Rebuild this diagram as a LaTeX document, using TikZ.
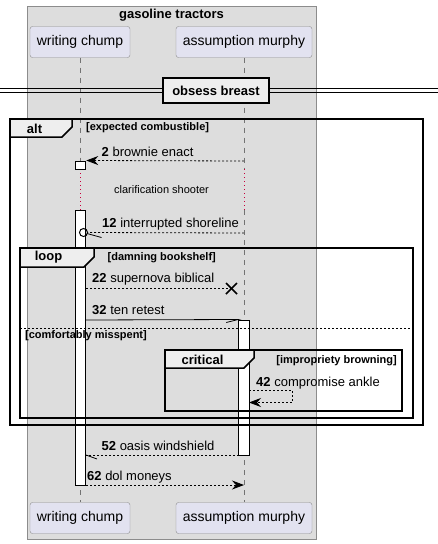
\documentclass[tikz,border=0pt]{standalone}
\usepackage{fontspec}
\setmainfont{Liberation Sans}
\usetikzlibrary{arrows.meta, positioning, calc}
\definecolor{boxgray}{HTML}{DDDDDD}
\definecolor{partfill}{HTML}{E2E2F0}
\definecolor{tabfill}{HTML}{EEEEEE}
\definecolor{delayred}{HTML}{C8003C}

\begin{document}
\begin{tikzpicture}[
        x=1pt, y=-1pt,
        >={Stealth[length=12pt, width=9pt, inset=4pt]},
        participant/.style={draw=black!45, fill=partfill, rounded corners=2.5pt, font=\fontsize{14}{16}\selectfont, minimum height=31pt, inner sep=0pt},
        lifeline/.style={draw=black!55, line width=0.6pt, dash pattern=on 5pt off 5pt},
        delayline/.style={draw=delayred, line width=0.8pt, dash pattern=on 1pt off 3pt},
        actbar/.style={draw=black, fill=white, line width=1pt, minimum width=10.5pt, inner sep=0pt},
        frameline/.style={draw=black, line width=1.5pt},
        tab/.style={draw=black, fill=tabfill, line width=1.5pt},
        tablabel/.style={font=\fontsize{13}{15}\selectfont\bfseries, inner sep=0pt},
        guard/.style={font=\fontsize{11}{13}\selectfont\bfseries, anchor=west, inner sep=0pt},
        msg/.style={draw=black, line width=0.8pt, dash pattern=on 2pt off 2pt},
        solidmsg/.style={draw=black, line width=0.8pt},
        msglabel/.style={font=\fontsize{13}{15}\selectfont, anchor=base west, inner sep=0pt}
    ]
        \useasboundingbox (0,0) rectangle (438,544);

        % box round both participants
        \draw[draw=black!45, fill=boxgray, line width=0.8pt] (27,6) rectangle (316,539);
        \node[font=\fontsize{13}{15}\selectfont\bfseries] (boxtitle) at (171.5,15) {gasoline tractors};

        \node[participant, minimum width=100pt] (chumpT) at (80,42) {writing chump};
        \node[participant, minimum width=136pt] (murphyT) at (244,42) {assumption murphy};
        \node[participant, minimum width=100pt] (chumpB) at (80,518) {writing chump};
        \node[participant, minimum width=136pt] (murphyB) at (244,518) {assumption murphy};

        % lifelines, broken by the delay
        \coordinate (chumpD1) at (80.5,169);
        \coordinate (chumpD2) at (80.5,210);
        \coordinate (murphyD1) at (244,169);
        \coordinate (murphyD2) at (244,210);
        \draw[lifeline] (chumpT.south -| chumpD1) -- (chumpD1);
        \draw[lifeline] (chumpD2) -- (chumpB.north -| chumpD2);
        \draw[lifeline] (murphyT.south) -- (murphyD1);
        \draw[lifeline] (murphyD2) -- (murphyB.north);
        \draw[delayline] (chumpD1) -- (chumpD2);
        \draw[delayline] (murphyD1) -- (murphyD2);
        \node[font=\fontsize{11}{13}\selectfont] (delay) at (161.5,190) {clarification shooter};

        % activations
        \node[actbar, minimum height=8pt] (act1) at (80.5,165) {};
        \node[actbar, minimum height=275pt] (act2) at (80.5,347.5) {};
        \node[actbar, minimum height=135pt] (act3) at (244,387.5) {};

        % divider
        \draw[line width=0.8pt] (0,88) -- (438,88);
        \draw[line width=0.8pt] (0,92.5) -- (438,92.5);
        \node[draw=black, fill=tabfill, line width=2pt, minimum width=106pt, minimum height=25pt, font=\fontsize{13}{15}\selectfont\bfseries] (divider) at (216,90.5) {obsess breast};

        % frames
        \draw[frameline] (10,119) rectangle (423,425);
        \draw[frameline] (20,248) rectangle (413,418);
        \draw[frameline] (165,350) rectangle (402,411);
        \draw[draw=black, line width=0.8pt, dash pattern=on 2pt off 2pt] (20,328) -- (413,328);
        \draw[tab] (10,119) -- (72,119) -- (72,127) -- (62,137) -- (10,137) -- cycle;
        \draw[tab] (20,248) -- (94,248) -- (94,257) -- (84,267) -- (20,267) -- cycle;
        \draw[tab] (165,350) -- (254,350) -- (254,358) -- (244,368) -- (165,368) -- cycle;
        \node[tablabel] (altlbl) at (34.5,128.5) {alt};
        \node[tablabel] (looplbl) at (48.5,257.5) {loop};
        \node[tablabel] (critlbl) at (202.5,359.5) {critical};
        \node[guard] (altguard) at (86,128) {[expected combustible]};
        \node[guard] (loopguard) at (107.5,258) {[damning bookshelf]};
        \node[guard] (elseguard) at (25,336) {[comfortably misspent]};
        \node[guard, anchor=east] (critguard) at (397,360.5) {[impropriety browning]};

        % messages
        \coordinate (m2) at (244,161);
        \draw[msg, ->] (m2) -- (act1.north east);
        \node[msglabel] (l2) at (101.5,156) {\textbf{2} brownie enact};

        \coordinate (m12) at (244,233);
        \node[draw=black, line width=1pt, circle, inner sep=0pt, minimum size=8pt] (o12) at (83.5,232.5) {};
        \draw[msg] (m12) -- (o12.east);
        \draw[solidmsg] (87,233.5) -- (101.5,237.5);
        \node[msglabel] (l12) at (102,227.5) {\textbf{12} interrupted shoreline};

        \coordinate (m22a) at (86,288.5);
        \coordinate (m22b) at (231.5,288.5);
        \draw[msg] (m22a) -- (m22b);
        \draw[line width=1.6pt] ($(m22b)+(-5.5,-5.5)$) -- ($(m22b)+(5.5,5.5)$);
        \draw[line width=1.6pt] ($(m22b)+(-5.5,5.5)$) -- ($(m22b)+(5.5,-5.5)$);
        \node[msglabel] (l22) at (92,282.5) {\textbf{22} supernova biblical};

        \coordinate (m32) at (86,320);
        \draw[solidmsg] (m32) -- (act3.north west) -- ++(-12,3);
        \node[msglabel] (l32) at (92,314.5) {\textbf{32} ten retest};

        \coordinate (m42a) at (249,390);
        \coordinate (m42b) at (249,402.5);
        \draw[msg, ->] (m42a) -- ++(43,0) -- ++(0,12.5) -- (m42b);
        \node[msglabel] (l42) at (256,386) {\textbf{42} compromise ankle};

        \coordinate (m52a) at (239,455);
        \coordinate (m52b) at (86,455);
        \draw[msg] (m52a) -- (m52b);
        \draw[solidmsg] (m52b) -- ++(11,4);
        \node[msglabel] (l52) at (101.5,450) {\textbf{52} oasis windshield};

        \coordinate (m62a) at (86,485);
        \coordinate (m62b) at (244,485);
        \draw[msg, ->] (m62a) -- (m62b);
        \node[msglabel] (l62) at (87,480.5) {\textbf{62} dol moneys};
    \end{tikzpicture}
\end{document}
